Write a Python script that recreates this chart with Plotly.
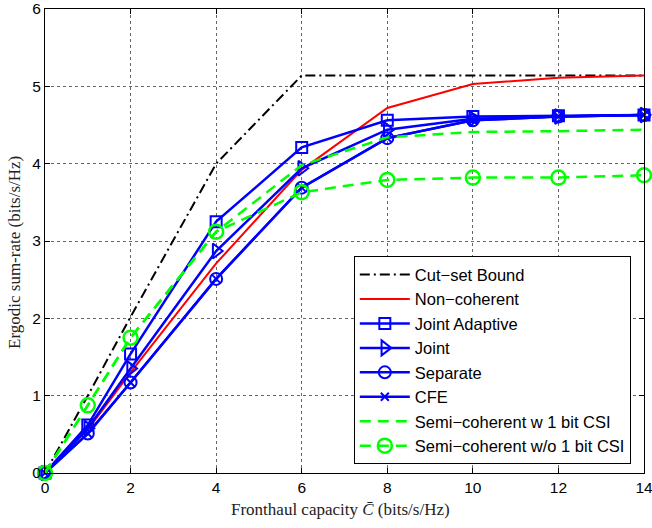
import plotly.graph_objects as go

# Fronthaul capacity grid (bits/s/Hz)
capacity = [0, 1, 2, 4, 6, 8, 10, 12, 14]

# Ergodic sum-rate for each scheme (bits/s/Hz)
cut_set_bound = [0, 1.0, 2.02, 4.0, 5.14, 5.14, 5.14, 5.14, 5.14]
non_coherent = [0, 0.56, 1.30, 2.71, 3.92, 4.72, 5.03, 5.11, 5.14]
joint_adaptive = [0, 0.62, 1.54, 3.25, 4.21, 4.56, 4.61, 4.62, 4.63]
joint = [0, 0.58, 1.35, 2.87, 3.94, 4.44, 4.58, 4.61, 4.63]
separate = [0, 0.51, 1.17, 2.51, 3.69, 4.33, 4.56, 4.61, 4.63]
cfe = [0, 0.51, 1.17, 2.51, 3.69, 4.33, 4.56, 4.61, 4.63]
semi_w_csi = [0, 0.875, 1.75, 3.12, 3.98, 4.34, 4.41, 4.42, 4.44]
semi_wo_csi = [0, 0.875, 1.75, 3.12, 3.63, 3.79, 3.82, 3.82, 3.85]

x_ticks = [0, 2, 4, 6, 8, 10, 12, 14]
y_ticks = [0, 1, 2, 3, 4, 5, 6]

BLUE = "#0000ff"
GREEN = "#00ff00"
RED = "#ff0000"

fig = go.Figure()

fig.add_trace(go.Scatter(
    x=capacity, y=cut_set_bound, mode="lines", name="Cut\u2212set Bound",
    line=dict(color="black", width=2, dash="10px,4px,2px,4px")))
fig.add_trace(go.Scatter(
    x=capacity, y=non_coherent, mode="lines", name="Non\u2212coherent",
    line=dict(color=RED, width=2)))
fig.add_trace(go.Scatter(
    x=capacity, y=joint_adaptive, mode="lines+markers", name="Joint Adaptive",
    line=dict(color=BLUE, width=2.5),
    marker=dict(symbol="square-open", size=11, color=BLUE, line=dict(width=2, color=BLUE))))
fig.add_trace(go.Scatter(
    x=capacity, y=joint, mode="lines+markers", name="Joint",
    line=dict(color=BLUE, width=2.5),
    marker=dict(symbol="triangle-right-open", size=13, color=BLUE, line=dict(width=2, color=BLUE))))
fig.add_trace(go.Scatter(
    x=capacity, y=separate, mode="lines+markers", name="Separate",
    line=dict(color=BLUE, width=2.5),
    marker=dict(symbol="circle-open", size=12, color=BLUE, line=dict(width=2, color=BLUE))))
fig.add_trace(go.Scatter(
    x=capacity, y=cfe, mode="lines+markers", name="CFE",
    line=dict(color=BLUE, width=2.5),
    marker=dict(symbol="x-thin-open", size=8, color=BLUE, line=dict(width=2, color=BLUE))))
fig.add_trace(go.Scatter(
    x=capacity, y=semi_w_csi, mode="lines", name="Semi\u2212coherent w 1 bit CSI",
    line=dict(color=GREEN, width=2.5, dash="11px,7px")))
fig.add_trace(go.Scatter(
    x=capacity, y=semi_wo_csi, mode="lines+markers", name="Semi\u2212coherent w/o 1 bit CSI",
    line=dict(color=GREEN, width=2.5, dash="11px,7px"),
    marker=dict(symbol="circle-open", size=14, color=GREEN, line=dict(width=2.5, color=GREEN))))

fig.update_traces(cliponaxis=False)

axis_common = dict(
    showline=True, linecolor="black", linewidth=1, mirror="ticks",
    ticks="inside", ticklen=5, tickcolor="black",
    showgrid=True, gridcolor="rgba(0,0,0,0.6)", gridwidth=1, griddash="dot",
    zeroline=False, ticklabeloverflow="allow", automargin=False,
    tickfont=dict(family="Liberation Sans, Arial, sans-serif", size=15.5, color="black"),
)

fig.update_xaxes(range=[0, 14], tickvals=x_ticks, ticktext=[str(v) for v in x_ticks], **axis_common)
fig.update_yaxes(range=[0, 6], tickvals=y_ticks, ticktext=[str(v) for v in y_ticks], **axis_common)

fig.add_annotation(
    text="Fronthaul capacity <i>C\u0304</i> (bits/s/Hz)", xref="paper", yref="paper",
    x=0.494, y=-0.0797, xanchor="center", yanchor="middle", showarrow=False,
    font=dict(family="Liberation Serif, Times New Roman, serif", size=17, color="#222"))
fig.add_annotation(
    text="Ergodic sum-rate (bits/s/Hz)", xref="paper", yref="paper",
    x=-0.052, y=0.476, xanchor="center", yanchor="middle", textangle=-90, showarrow=False,
    font=dict(family="Liberation Serif, Times New Roman, serif", size=17, color="#222"))

fig.update_layout(
    width=652, height=528,
    margin=dict(l=45, r=8, t=9, b=55, autoexpand=False),
    paper_bgcolor="white", plot_bgcolor="white",
    showlegend=True,
    legend=dict(
        x=0.978, y=0.467, xanchor="right", yanchor="top",
        bgcolor="white", bordercolor="black", borderwidth=1,
        font=dict(family="Liberation Sans, Arial, sans-serif", size=16.5, color="black"),
        itemwidth=50, tracegroupgap=0,
    ),
)

fig.write_html("out.html")
